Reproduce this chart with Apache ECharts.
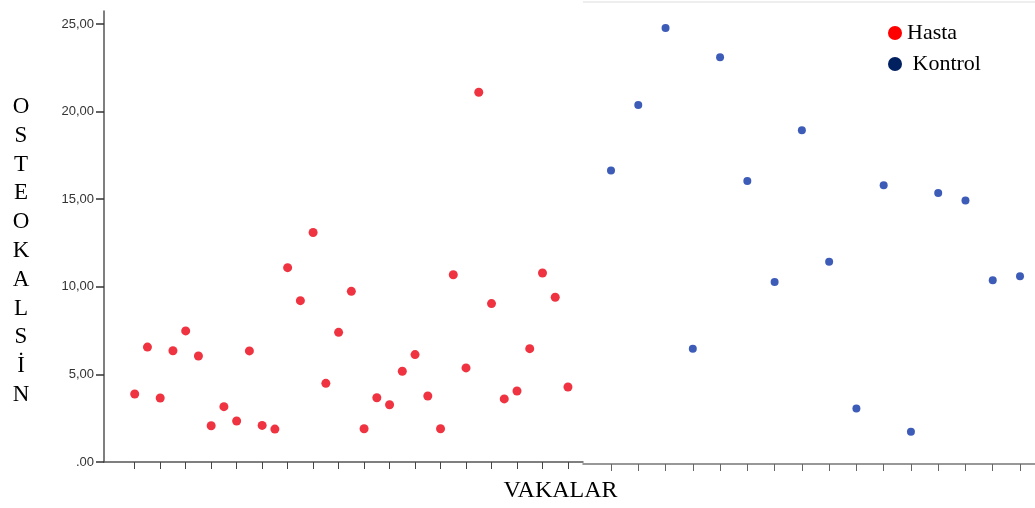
<!DOCTYPE html>
<html>
<head>
<meta charset="utf-8">
<script src="https://cdn.jsdelivr.net/npm/echarts@6/dist/echarts.min.js"></script>
<style>
  html, body { margin: 0; padding: 0; background: #fff; }
  #chart { width: 1035px; height: 508px; }
</style>
</head>
<body>
<div id="chart"></div>
<script>
// Osteokalsin değerleri, vaka sırasına göre
const hastaValues = [
  3.88, 6.56, 3.65, 6.35, 7.48, 6.05, 2.07, 3.16, 2.34, 6.34,
  2.09, 1.88, 11.09, 9.21, 13.10, 4.49, 7.40, 9.74, 1.90, 3.67,
  3.27, 5.18, 6.13, 3.77, 1.90, 10.69, 5.37, 21.10, 9.04, 3.60,
  4.05, 6.47, 10.79, 9.40, 4.28
]
const kontrolValues = [
  16.63, 20.38, 24.77, 6.47, 23.10, 16.04, 10.27, 18.93, 11.43, 3.06,
  15.79, 1.73, 15.35, 14.92, 10.37, 10.60
]
const yTicks = [0, 5, 10, 15, 20, 25]
const yTickLabels = ['.00', '5,00', '10,00', '15,00', '20,00', '25,00']
const yTitle = 'OSTEOKALSİN'
const xTitle = 'VAKALAR'

const hastaData = hastaValues.map((v, i) => [i + 1, v])
const kontrolData = kontrolValues.map((v, i) => [i + 1, v])
// sol panelde her iki vakada bir çentik, sağ panelde her vakada
const hastaTicks = hastaData.map(d => d[0]).filter((c, i) => i % 2 === 0)
const kontrolTicks = kontrolData.map(d => d[0])

const chart = echarts.init(document.getElementById('chart'))

const serif = '"Liberation Serif", "Times New Roman", serif'

const option = {
  backgroundColor: '#fff',
  animation: false,
  grid: [
    { left: 104, top: 11, width: 479, height: 451 },
    { left: 583, top: 11, width: 452, height: 451 }
  ],
  xAxis: [
    {
      type: 'value', gridIndex: 0, min: -1.41, max: 36.18,
      axisLine: { show: true, onZero: false, lineStyle: { color: '#555', width: 1.5 } },
      axisTick: { show: true, length: 7, customValues: hastaTicks, lineStyle: { color: '#444', width: 1 } },
      axisLabel: { show: false },
      splitLine: { show: false }
    },
    {
      type: 'value', gridIndex: 1, min: -0.027, max: 16.55, offset: 2,
      axisLine: { show: true, onZero: false, lineStyle: { color: '#777', width: 1.5 } },
      axisTick: { show: true, length: 7, customValues: kontrolTicks, lineStyle: { color: '#666', width: 1 } },
      axisLabel: { show: false },
      splitLine: { show: false }
    }
  ],
  yAxis: [
    {
      type: 'value', gridIndex: 0, min: 0, max: 25.74,
      axisLine: { show: true, onZero: false, lineStyle: { color: '#555', width: 1.5 } },
      axisTick: { show: true, length: 8, customValues: yTicks, lineStyle: { color: '#333', width: 1.5 } },
      axisLabel: {
        show: true,
        customValues: yTicks,
        margin: 10,
        color: '#333',
        fontSize: 13,
        fontFamily: '"Liberation Sans", Arial, sans-serif',
        formatter: (val) => yTickLabels[yTicks.indexOf(val)]
      },
      splitLine: { show: false }
    },
    {
      type: 'value', gridIndex: 1, min: 0, max: 25.74, show: false
    }
  ],
  legend: {
    orient: 'vertical',
    left: 883,
    top: 17,
    icon: 'circle',
    itemWidth: 14,
    itemHeight: 14,
    itemGap: 9,
    textStyle: { fontFamily: serif, fontSize: 22, color: '#000' },
    formatter: (name) => name === 'Kontrol' ? ' Kontrol' : name,
    data: [
      { name: 'Hasta', itemStyle: { color: '#ff0000' } },
      { name: 'Kontrol', itemStyle: { color: '#002060' } }
    ]
  },
  graphic: [
    {
      type: 'line',
      shape: { x1: 583, y1: 2, x2: 1035, y2: 2 },
      style: { stroke: '#ddd', lineWidth: 1 }
    },
    {
      type: 'text',
      x: 21, y: 92.6,
      style: {
        text: yTitle.split('').join('\n'),
        font: '23px ' + serif,
        fill: '#000',
        align: 'center',
        verticalAlign: 'top',
        lineHeight: 28.8
      }
    },
    {
      type: 'text',
      x: 560.5, y: 491,
      style: {
        text: xTitle,
        font: '24px ' + serif,
        fill: '#000',
        align: 'center',
        verticalAlign: 'middle'
      }
    }
  ],
  series: [
    {
      name: 'Hasta', type: 'scatter', xAxisIndex: 0, yAxisIndex: 0,
      symbolSize: 9,
      itemStyle: { color: '#ef3340', opacity: 1 },
      data: hastaData
    },
    {
      name: 'Kontrol', type: 'scatter', xAxisIndex: 1, yAxisIndex: 1,
      symbolSize: 8,
      itemStyle: { color: '#3d5cb8', opacity: 1 },
      data: kontrolData
    }
  ]
}

chart.setOption(option)
</script>
</body>
</html>
